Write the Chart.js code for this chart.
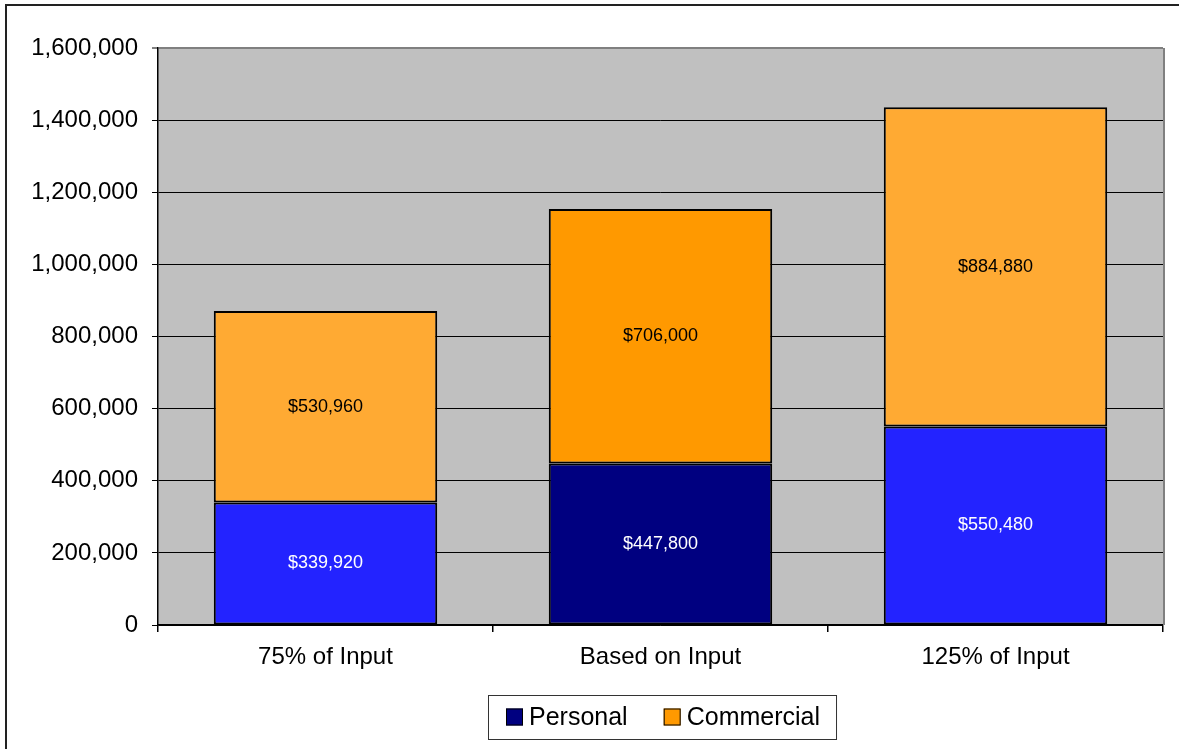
<!DOCTYPE html>
<html>
<head>
<meta charset="utf-8">
<script src="https://cdn.jsdelivr.net/npm/chart.js@4.4.1/dist/chart.umd.min.js"></script>
<style>
  html, body { margin: 0; padding: 0; background: #fff; }
  #wrap { position: relative; width: 1179px; height: 749px; }
  canvas { display: block; }
</style>
</head>
<body>
<div id="wrap"><canvas id="c" width="1179" height="749"></canvas></div>
<script>
// ---- data ----
const categories = ['75% of Input', 'Based on Input', '125% of Input'];
const personal = [339920, 447800, 550480];
const commercial = [530960, 706000, 884880];
const seriesNames = ['Personal', 'Commercial'];
const yTicks = [0, 200000, 400000, 600000, 800000, 1000000, 1200000, 1400000, 1600000];

// ---- styles ----
const FONT = '"Liberation Sans", Arial, sans-serif';
const personalColors = ['#2323FF', '#000080', '#2323FF'];
const commercialColors = ['#FFAA33', '#FF9900', '#FFAA33'];
const legendColors = ['#000080', '#FF9900'];

const framePlugin = {
  id: 'frame',
  beforeDraw(chart) {
    const { ctx, chartArea: a } = chart;
    ctx.save();
    ctx.fillStyle = '#fff';
    ctx.fillRect(0, 0, chart.width, chart.height);
    // outer frame (top and left visible)
    ctx.strokeStyle = '#222';
    ctx.lineWidth = 2;
    ctx.beginPath();
    ctx.moveTo(6, chart.height + 5);
    ctx.lineTo(6, 5);
    ctx.lineTo(chart.width + 5, 5);
    ctx.stroke();
    // plot background
    ctx.fillStyle = '#C0C0C0';
    ctx.fillRect(a.left, a.top, a.right - a.left, a.bottom - a.top);
    ctx.restore();
  },
  afterDatasetsDraw(chart) {
    const { ctx, chartArea: a } = chart;
    ctx.save();
    // right border of plot area
    ctx.strokeStyle = '#808080';
    ctx.lineWidth = 2;
    ctx.beginPath();
    ctx.moveTo(a.right + 1, a.top);
    ctx.lineTo(a.right + 1, a.bottom);
    ctx.stroke();
    // value labels
    ctx.font = '18px ' + FONT;
    ctx.textAlign = 'center';
    ctx.textBaseline = 'middle';
    chart.data.datasets.forEach((ds, di) => {
      const meta = chart.getDatasetMeta(di);
      meta.data.forEach((bar, i) => {
        const v = ds.data[i];
        const y = (bar.y + bar.base) / 2;
        ctx.fillStyle = di === 0 ? '#FFFFFF' : '#000000';
        ctx.fillText('$' + v.toLocaleString('en-US'), bar.x, y);
      });
    });
    // legend
    ctx.font = '25px ' + FONT;
    const box = 17, gap = 6, spacing = 36, padL = 18, padR = 16;
    const widths = chart.data.datasets.map(ds => ctx.measureText(ds.label).width);
    let total = padL + padR;
    widths.forEach((w, i) => { total += box + gap + w + (i > 0 ? spacing : 0); });
    const h = 44;
    const cx = (a.left + a.right) / 2 + 2;
    const lx = Math.round(cx - total / 2);
    const ly = a.bottom + 70;
    ctx.fillStyle = '#fff';
    ctx.fillRect(lx, ly, total, h);
    ctx.strokeStyle = '#333';
    ctx.lineWidth = 1;
    ctx.strokeRect(lx + 0.5, ly + 0.5, total, h);
    let x = lx + padL;
    const my = ly + h / 2;
    ctx.textAlign = 'left';
    chart.data.datasets.forEach((ds, i) => {
      ctx.fillStyle = legendColors[i];
      ctx.fillRect(x, my - box / 2, box, box);
      ctx.strokeStyle = '#000';
      ctx.lineWidth = 1;
      ctx.strokeRect(x + 0.5, my - box / 2 + 0.5, box - 1, box - 1);
      ctx.fillStyle = '#000';
      ctx.fillText(ds.label, x + box + gap, my + 1);
      x += box + gap + widths[i] + spacing;
    });
    ctx.restore();
  }
};

new Chart(document.getElementById('c'), {
  type: 'bar',
  data: {
    labels: categories,
    datasets: [
      { label: seriesNames[0], data: personal, backgroundColor: personalColors,
        borderColor: '#000', borderWidth: 2, borderSkipped: false },
      { label: seriesNames[1], data: commercial, backgroundColor: commercialColors,
        borderColor: '#000', borderWidth: 2, borderSkipped: false }
    ]
  },
  options: {
    responsive: false,
    animation: false,
    layout: { padding: { left: 6, top: 48, right: 16, bottom: 0 } },
    datasets: { bar: { barPercentage: 0.667, categoryPercentage: 1.0 } },
    plugins: { legend: { display: false }, tooltip: { enabled: false }, title: { display: false } },
    scales: {
      x: {
        stacked: true,
        afterFit(s) { s.height = 124; },
        border: { display: true, color: '#000', width: 1.5 },
        grid: { offset: true, drawOnChartArea: false, drawTicks: true, tickLength: 7, color: '#000', lineWidth: 1.5 },
        ticks: { color: '#000', font: { family: FONT, size: 24 }, padding: 11, maxRotation: 0 }
      },
      y: {
        stacked: true,
        min: 0, max: 1600000,
        afterFit(s) { s.width = 152; },
        afterBuildTicks(s) { s.ticks = yTicks.map(v => ({ value: v })); },
        border: { display: true, color: '#000', width: 1.5 },
        grid: {
          color: ctx => (ctx.tick && ctx.tick.value === 1600000) ? '#808080' : '#000',
          lineWidth: ctx => (ctx.tick && ctx.tick.value === 1600000) ? 2 : 1,
          tickLength: 6, drawTicks: true
        },
        ticks: {
          color: '#000', font: { family: FONT, size: 24 }, padding: 14,
          callback: v => Number(v).toLocaleString('en-US')
        }
      }
    }
  },
  plugins: [framePlugin]
});
</script>
</body>
</html>
